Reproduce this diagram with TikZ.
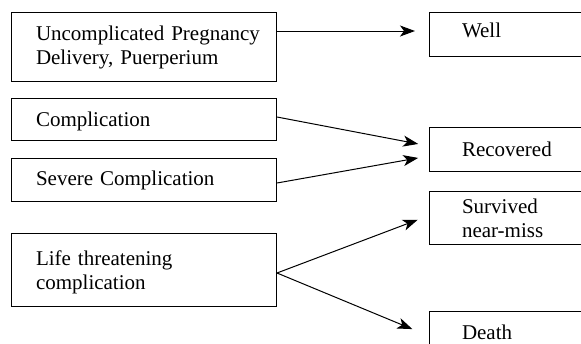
\documentclass[tikz,border=0pt]{standalone}
\usepackage{fontspec}
\setmainfont{Liberation Serif}
\usetikzlibrary{arrows.meta,calc}
\begin{document}
\begin{tikzpicture}[x=1pt,y=-1pt,
  every node/.style={font=\fontsize{21}{24}\selectfont},
  leftbox/.style={draw,line width=1pt,rectangle,anchor=north west,minimum width=265pt,
    text width=262pt,inner xsep=0pt,inner ysep=0pt,align=left},
  rightbox/.style={draw,line width=1pt,rectangle,anchor=north west,minimum width=200pt,
    text width=197pt,inner xsep=0pt,inner ysep=0pt,align=left},
  conn/.style={line width=1pt,-{Stealth[length=15pt,width=11pt,inset=4pt]}}]
\useasboundingbox (0,0) rectangle (581,343);
% left boxes
\node[leftbox,minimum height=69pt] (b1) at (11,12) {\hspace*{23pt}Uncomplicated Pregnancy\\\hspace*{23pt}Delivery, Puerperium};
\node[leftbox,minimum height=42pt,text depth=1pt] (b2) at (11,98) {\hspace*{23pt}Complication};
\node[leftbox,minimum height=43pt] (b3) at (11,158) {\hspace*{23pt}Severe Complication};
\node[leftbox,minimum height=73pt,text depth=23pt] (b4) at (11,233) {\hspace*{23pt}Life threatening\\\hspace*{23pt}complication};
% right boxes
\node[rightbox,minimum height=44pt,text depth=8pt] (well) at (429,12) {\hspace*{31pt}Well};
\node[rightbox,minimum height=44pt] (rec) at (429,127) {\hspace*{31pt}Recovered};
\node[rightbox,minimum height=53pt] (surv) at (429,191) {\hspace*{31pt}Survived\\\hspace*{31pt}near-miss};
\node[rightbox,minimum height=44pt,text depth=3pt] (death) at (429,311) {\hspace*{31pt}Death};
% connector anchors
\coordinate (s1) at ($(b1.north east)+(0,19)$);
\coordinate (t1) at ($(well.north west)+(0,19)$);
\coordinate (s2) at ($(b2.north east)+(0,19)$);
\coordinate (t2) at ($(rec.north west)+(0,19)$);
\coordinate (s3) at ($(b3.north east)+(0,25)$);
\coordinate (t3) at ($(rec.north west)+(0,29)$);
\coordinate (s4) at ($(b4.north east)+(0,40)$);
\coordinate (t4) at ($(surv.north west)+(0,24.5)$);
\coordinate (t5) at ($(death.north west)+(0,25)$);
\draw[conn,shorten >=14pt] (s1) -- (t1);
\draw[conn,shorten >=11pt] (s2) -- (t2);
\draw[conn,shorten >=11pt] (s3) -- (t3);
\draw[conn,shorten >=12pt] (s4) -- (t4);
\draw[conn,shorten >=18pt] (s4) -- (t5);
\end{tikzpicture}
\end{document}
